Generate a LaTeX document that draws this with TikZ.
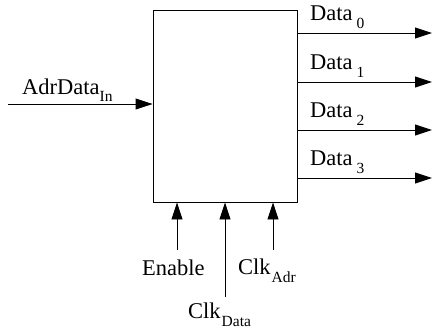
\documentclass[tikz,border=0pt]{standalone}
\usepackage{fontspec}
\setmainfont{Liberation Serif}
\usetikzlibrary{arrows.meta}
\newcommand\mysub[3]{\kern#1\raisebox{-#2}{\fontsize{15.5}{15.5}\selectfont #3}}
\begin{document}
\begin{tikzpicture}[x=1pt,y=-1pt,
  lbl/.style={anchor=base west,inner sep=0pt,font=\fontsize{22.5}{26}\selectfont},
  arr/.style={line width=0.9pt,-{Triangle[length=17pt,width=11pt]}},
  blk/.style={draw,line width=0.9pt,minimum width=144pt,minimum height=192pt,inner sep=0pt}]
\useasboundingbox (0,0) rectangle (433,332);
\node[blk] (box) at (225,106) {};
% input
\coordinate (in) at (8,104);
\node[lbl] (lin) at (22,94) {AdrData\mysub{0pt}{7pt}{In}};
\draw[arr] (in) -- (in -| box.west);
% outputs
\coordinate (o0) at (432,33);
\coordinate (o1) at (432,82);
\coordinate (o2) at (432,130);
\coordinate (o3) at (432,178);
\node[lbl] (l0) at (310,20) {Data\mysub{4pt}{8pt}{0}};
\node[lbl] (l1) at (310,69) {Data\mysub{4pt}{8pt}{1}};
\node[lbl] (l2) at (310,117) {Data\mysub{4pt}{8pt}{2}};
\node[lbl] (l3) at (310,165) {Data\mysub{4pt}{8pt}{3}};
\draw[arr] (o0 -| box.east) -- (o0);
\draw[arr] (o1 -| box.east) -- (o1);
\draw[arr] (o2 -| box.east) -- (o2);
\draw[arr] (o3 -| box.east) -- (o3);
% bottom inputs
\coordinate (en) at (177,250);
\coordinate (cd) at (225,297);
\coordinate (ca) at (273,250);
\draw[arr] (en) -- (en |- box.south);
\draw[arr] (cd) -- (cd |- box.south);
\draw[arr] (ca) -- (ca |- box.south);
\node[lbl] (len) at (142,275) {Enable};
\node[lbl] (lca) at (238,274) {Clk\mysub{1pt}{8pt}{Adr}};
\node[lbl] (lcd) at (188,318) {Clk\mysub{1pt}{8pt}{Data}};
\end{tikzpicture}
\end{document}
